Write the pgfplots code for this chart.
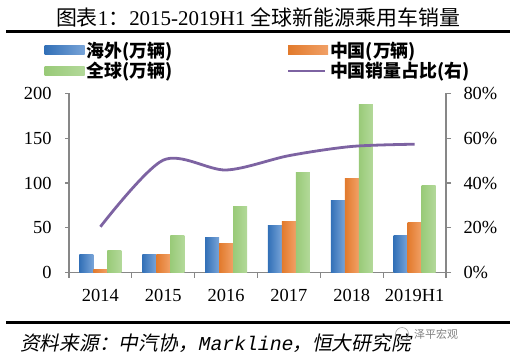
\documentclass[border=0pt]{standalone}
\usepackage{fontspec}
\setmainfont{Liberation Serif}
\newfontfamily\cjk{Noto Sans CJK SC}
\newfontfamily\cjksl[FakeSlant=0.2]{Noto Sans CJK SC}
\newfontfamily\monosl[FakeSlant=0.2]{Liberation Mono}
\usepackage{pgfplots}
\pgfplotsset{compat=1.18}
\definecolor{axisgray}{HTML}{878787}
\definecolor{bA}{HTML}{3270B7}
\definecolor{bB}{HTML}{A7C7EA}
\definecolor{bC}{HTML}{78A4D8}
\definecolor{oA}{HTML}{E27A2C}
\definecolor{oB}{HTML}{FAC098}
\definecolor{oC}{HTML}{F1A066}
\definecolor{gA}{HTML}{99CA78}
\definecolor{gB}{HTML}{D4ECC4}
\definecolor{gC}{HTML}{B3D99A}
\definecolor{lineP}{HTML}{7D63A2}
\pgfplotsset{
  bluebar/.style={draw=none, left color=bA, middle color=bB, right color=bC},
  orangebar/.style={draw=none, left color=oA, middle color=oB, right color=oC},
  greenbar/.style={draw=none, left color=gA, middle color=gB, right color=gC},
}
\pgfplotstableread{
x share
0 20.5
1 50.2
2 45.8
3 52.2
4 56.3
5 57.3
}\sharetable
\begin{document}
\begin{tikzpicture}[x=1bp,y=1bp]
\useasboundingbox (0,0) rectangle (519,358);
% title
\node[font=\fontsize{21}{21}\selectfont] at (258,341) {{\cjk 图表}1{\cjk ：}2015-2019H1 {\cjk 全球新能源乘用车销量}};
\draw[line width=3bp] (6,327) -- (510,327);
\draw[line width=3bp] (6,36) -- (510,36);
\node[anchor=west, font=\fontsize{19.8}{19.8}\selectfont, inner sep=0] at (20,15) {{\cjksl 资料来源：中汽协，}{\monosl Markline}{\cjksl ，恒大研究院}};
\draw[gray!70, line width=0.6bp] (402,24) circle (6.5);
\node[anchor=west, font=\fontsize{11}{11}\selectfont, text=gray, inner sep=0] at (414,24) {\cjk 泽平宏观};
\begin{axis}[
  at={(69bp,85.3bp)}, anchor=south west,
  scale only axis, width=377bp, height=179.4bp,
  xmin=-0.5, xmax=5.5, ymin=0, ymax=200,
  axis x line*=bottom, axis y line*=left,
  axis line style={draw=axisgray, line width=1.2bp},
  xtick={0,...,5}, xticklabels={2014,2015,2016,2017,2018,2019H1},
  xtick style={draw=none},
  xticklabel style={yshift=-9bp},
  extra x ticks={-0.5,0.5,...,5.5}, extra x tick labels={},
  extra x tick style={xtick style={draw=axisgray, line width=1.2bp}, tick align=outside, major tick length=5bp},
  ytick={0,50,...,200},
  ytick style={draw=axisgray, line width=1.2bp},
  yticklabel style={xshift=-10bp},
  tick align=outside, major tick length=4bp,
  ticklabel style={font=\fontsize{18.5}{18.5}\selectfont},
  /pgf/number format/assume math mode=true,
  ybar, bar width=14bp,
  legend columns=2,
  legend style={draw=none, fill=none, at={(-0.065,1.30)}, anchor=north west, inner sep=0pt,
    font=\fontsize{18}{18}\selectfont\cjk\bfseries, row sep=0bp,
    /tikz/every even column/.append style={column sep=112bp}},
  legend cell align=left,
  legend image code/.code={\path[#1] (0bp,-4.5bp) rectangle (40bp,4.5bp);},
]
% overseas
\addplot[bluebar, bar shift=-14bp, forget plot] coordinates {(0,20)};
\addplot[bluebar, bar shift=-14bp, forget plot] coordinates {(1,20.8)};
\addplot[bluebar, bar shift=-14bp, forget plot] coordinates {(2,38.7)};
\addplot[bluebar, bar shift=-14bp, forget plot] coordinates {(3,53)};
\addplot[bluebar, bar shift=-14bp, forget plot] coordinates {(4,81)};
\addplot[bluebar, bar shift=-14bp, forget plot] coordinates {(5,42)};
% china
\addplot[orangebar, bar shift=0bp, forget plot] coordinates {(0,4)};
\addplot[orangebar, bar shift=0bp, forget plot] coordinates {(1,20)};
\addplot[orangebar, bar shift=0bp, forget plot] coordinates {(2,33)};
\addplot[orangebar, bar shift=0bp, forget plot] coordinates {(3,57.6)};
\addplot[orangebar, bar shift=0bp, forget plot] coordinates {(4,105.5)};
\addplot[orangebar, bar shift=0bp, forget plot] coordinates {(5,55.5)};
% global
\addplot[greenbar, bar shift=14bp, forget plot] coordinates {(0,25.3)};
\addplot[greenbar, bar shift=14bp, forget plot] coordinates {(1,42)};
\addplot[greenbar, bar shift=14bp, forget plot] coordinates {(2,73.3)};
\addplot[greenbar, bar shift=14bp, forget plot] coordinates {(3,112)};
\addplot[greenbar, bar shift=14bp, forget plot] coordinates {(4,188)};
\addplot[greenbar, bar shift=14bp, forget plot] coordinates {(5,97.7)};
\addlegendimage{bluebar}
\addlegendentry{海外(万辆)}
\addlegendimage{orangebar}
\addlegendentry{中国(万辆)}
\addlegendimage{greenbar}
\addlegendentry{全球(万辆)}
\addlegendimage{legend image code/.code={\draw[lineP, line width=2.5bp] (0bp,0bp) -- (37bp,0bp);}}
\addlegendentry{中国销量占比(右)}
\end{axis}
\begin{axis}[
  at={(69bp,85.3bp)}, anchor=south west,
  scale only axis, width=377bp, height=179.4bp,
  xmin=-0.5, xmax=5.5, ymin=0, ymax=80,
  axis x line=none, axis y line*=right,
  axis line style={draw=axisgray, line width=1.2bp},
  ytick={0,20,...,80}, yticklabel={\pgfmathprintnumber{\tick}\%},
  ytick style={draw=axisgray, line width=1.2bp},
  yticklabel style={xshift=9bp},
  tick align=outside, major tick length=5bp,
  ticklabel style={font=\fontsize{18.5}{18.5}\selectfont},
  /pgf/number format/assume math mode=true,
]
\addplot[lineP, line width=2.8bp, smooth, tension=0.5, no marks] table[x=x,y=share]{\sharetable};
\end{axis}
\end{tikzpicture}
\end{document}
